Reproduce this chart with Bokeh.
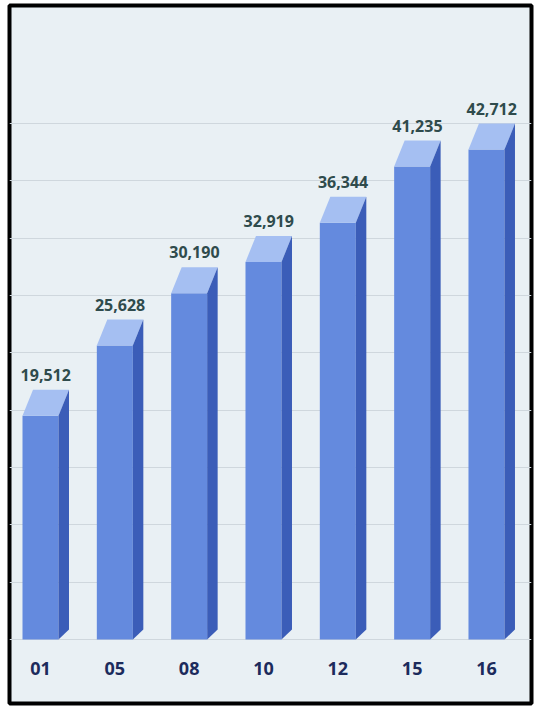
from bokeh.plotting import figure
from bokeh.models import Range1d, Grid, FixedTicker, ColumnDataSource
from bokeh.core.properties import value
from bokeh.embed import file_html
from bokeh.resources import INLINE

categories = ["01", "05", "08", "10", "12", "15", "16"]
values = [19512, 25628, 30190, 32919, 36344, 41235, 42712]
value_labels = ["19,512", "25,628", "30,190", "32,919", "36,344", "41,235", "42,712"]
grid_values = [0, 5000, 10000, 15000, 20000, 25000, 30000, 35000, 40000, 45000]

W, H = 539, 708
ML, MT, MR, MB = 9, 5, 8, 5
FW, FH = W - ML - MR, H - MT - MB
PX_PER_UNIT_Y = 0.01147          # pixels per data unit (vertical)
PX_PER_CAT = 74.33               # pixels per category step
BASE_PX = 634                    # baseline distance from top of frame
LEFT_PX = 31                     # first bar centre from left of frame

y0 = -(FH - BASE_PX) / PX_PER_UNIT_Y
y1 = BASE_PX / PX_PER_UNIT_Y
x0 = -LEFT_PX / PX_PER_CAT
x1 = x0 + FW / PX_PER_CAT

BAR_W = 36 / PX_PER_CAT
DX = 10.5 / PX_PER_CAT
DY_TOP = 26 / PX_PER_UNIT_Y
DY_BOT = 10 / PX_PER_UNIT_Y

p = figure(width=W, height=H, output_backend="svg", toolbar_location=None,
           x_range=Range1d(x0, x1), y_range=Range1d(y0, y1),
           x_axis_location=None, y_axis_location=None,
           min_border=0, min_border_left=ML, min_border_right=MR,
           min_border_top=MT, min_border_bottom=MB)
p.grid.visible = False
p.background_fill_color = "#e9f0f4"
p.border_fill_color = "white"
p.outline_line_color = "black"
p.outline_line_width = 4

p.add_layout(Grid(dimension=1, ticker=FixedTicker(ticks=grid_values),
                  grid_line_color="#cfd7dd", grid_line_width=1))

xs = list(range(len(categories)))
src = ColumnDataSource(dict(x=xs, top=values, lab=value_labels, cat=categories,
                            lx=[x + DX / 2 for x in xs]))

# front faces
p.vbar(x="x", top="top", bottom=0, width=BAR_W, source=src,
       fill_color="#648ade", line_color=None)

# top faces and side faces
top_xs, top_ys, side_xs, side_ys = [], [], [], []
for x, v in zip(xs, values):
    L, R = x - BAR_W / 2, x + BAR_W / 2
    top_xs.append([L, R, R + DX, L + DX])
    top_ys.append([v, v, v + DY_TOP, v + DY_TOP])
    side_xs.append([R, R + DX, R + DX, R])
    side_ys.append([v, v + DY_TOP, DY_BOT, 0])
p.patches(top_xs, top_ys, fill_color="#a5bff2", line_color=None)
p.patches(side_xs, side_ys, fill_color="#3b5db8", line_color=None)

# value labels
p.text(x="lx", y="top", text="lab", source=src, y_offset=-35,
       text_align="center", text_baseline="bottom",
       text_font=value("Noto Sans"), text_font_style="bold",
       text_font_size="16px", text_color="#2f4b4c")

# category labels
p.text(x="x", y=0, text="cat", source=src, y_offset=29,
       text_align="center", text_baseline="middle",
       text_font=value("Noto Sans"), text_font_style="bold",
       text_font_size="18px", text_color="#1c2b5c")

open("out.html", "w").write(file_html(p, INLINE))
